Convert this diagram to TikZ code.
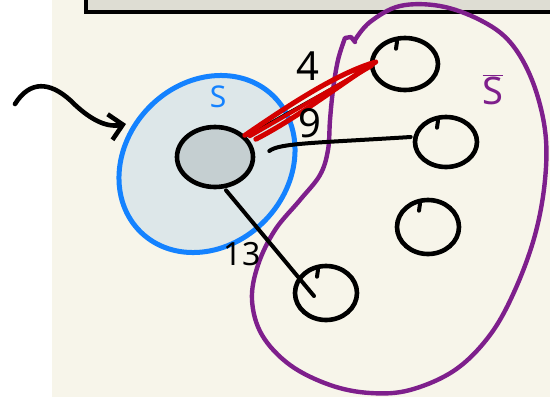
\documentclass[tikz,border=0pt]{standalone}
\usepackage{fontspec}
\setmainfont{Noto Sans}
\usetikzlibrary{shapes.geometric,arrows.meta,calc}
\definecolor{cream}{HTML}{F7F5EA}
\definecolor{topgrey}{HTML}{DEDDD3}
\definecolor{setblue}{HTML}{1482FF}
\definecolor{setfill}{HTML}{DDE7E9}
\definecolor{innerfill}{HTML}{C5CFD1}
\definecolor{setpurple}{HTML}{7E1F8C}
\definecolor{cutred}{HTML}{D40000}
\tikzset{
  pen/.style={line width=4.6pt, line cap=round, line join=round},
  vertex/.style={ellipse, draw=black, pen, inner sep=0pt},
  edgeline/.style={pen, black, line width=4pt},
  redline/.style={pen, cutred, line width=5pt},
  numlabel/.style={font=\fontsize{40}{40}\selectfont, inner sep=0pt}
}
\begin{document}
\begin{tikzpicture}[x=1pt,y=-1pt]
\useasboundingbox (0,0) rectangle (550,397);
% background
\fill[white] (0,0) rectangle (550,397);
\fill[cream] (52,0) rectangle (550,397);
\fill[topgrey] (86,-5) rectangle (555,12);
\draw[line width=4pt] (86,-5) -- (86,12) -- (555,12);
% set S
\node[ellipse, draw=setblue, fill=setfill, line width=5pt, minimum width=190, minimum height=162, rotate=46] (S) at (207,164) {};
% set S-bar
\draw[setpurple, pen, line width=4.4pt] plot[smooth, tension=0.6] coordinates {
 (355,40) (370,22) (400,6) (440,6) (480,20) (510,42) (532,80) (545,130) (545,180)
 (535,235) (515,290) (490,335) (455,370) (410,390) (370,393) (330,385) (290,365)
 (262,335) (252,300) (258,265) (275,230) (300,200) (320,175) (328,150) (330,120)
 (333,90) (338,60) (345,38)} -- (351,37) -- (355,42);
% vertices
\node[vertex, fill=innerfill, minimum width=76, minimum height=60] (u) at (215,157) {};
\node[vertex, minimum width=66, minimum height=52] (a) at (405,64) {};
\node[vertex, minimum width=62, minimum height=50] (b) at (446,142) {};
\node[vertex, minimum width=62, minimum height=54] (c) at (428,227) {};
\node[vertex, minimum width=62, minimum height=54] (d) at (326,293) {};
% edges
\draw[edgeline, line width=2.5pt] (u.34) -- ($(a.west)+(4,1)$);
\draw[redline] (u.36) .. controls (292,103) and (338,73) .. ($(a.west)+(6,-2)$)
   .. controls (345,81) and (299,117) .. ($(u.34)+(10,3)$);
\draw[redline, line width=4pt] ($(u.34)+(4,0)$) -- ($(a.west)+(2,2)$);
\draw[edgeline] ($(u.east)+(14,-6)$) .. controls ($(u.east)+(24,-14)$) and ($(u.east)+(60,-14)$) .. ($(b.west)+(-2,-5)$);
\draw[edgeline] ($(u.south)+(11,1)$) -- ($(d.center)+(-12,3)$);
% tick marks of vertices
\foreach \n in {a,b,c,d} \draw[pen, line width=4pt] ($(\n.north)+(-8,6)$) -- ($(\n.north)+(-9,13)$);
% arrow
\coordinate (arrS) at (15,104);
\coordinate (arrE) at (126,124);
\draw[pen, -{Straight Barb[length=13pt,width=26pt]}] (arrS) .. controls (30,80) and (50,82) .. (70,100) .. controls (88,118) and (105,128) .. (arrE);
% labels
\node[numlabel] (l4) at (308,66) {4};
\node[numlabel] (l9) at (310,123) {9};
\node[numlabel, font=\fontsize{32}{32}\selectfont] (l13) at (242,254) {13};
\node[inner sep=0pt, text=setblue, font=\fontsize{30}{30}\selectfont] (lS) at (218,97) {S};
\node[inner sep=0pt, text=setpurple, font=\fontsize{38}{38}\selectfont] (lSb) at (493,90) {$\overline{\hbox{S}}$};
\end{tikzpicture}
\end{document}
